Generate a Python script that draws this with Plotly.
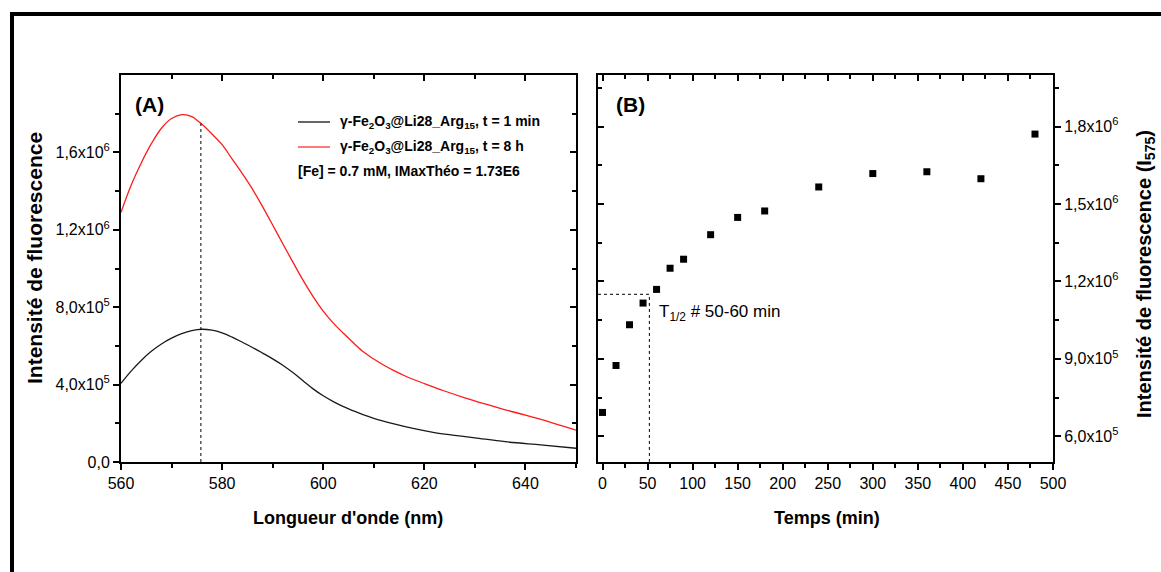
import plotly.graph_objects as go

W, H = 1161, 572

# ---------------- data ----------------
# Panel A: fluorescence spectra
wl_8h = [560, 562, 564, 566, 568, 570, 572, 574, 576, 578, 580, 582, 584, 586, 588, 590, 592,
         594, 596, 598, 600, 602, 604, 606, 608, 610, 612, 614, 616, 618, 620, 624, 628, 632,
         636, 640, 645, 650]
int_8h = [1.29e6, 1.43e6, 1.545e6, 1.645e6, 1.725e6, 1.775e6, 1.795e6, 1.785e6, 1.745e6,
          1.695e6, 1.64e6, 1.565e6, 1.49e6, 1.41e6, 1.32e6, 1.225e6, 1.128e6, 1.033e6, 0.94e6,
          0.855e6, 0.78e6, 0.718e6, 0.665e6, 0.615e6, 0.568e6, 0.532e6, 0.5e6, 0.472e6,
          0.447e6, 0.425e6, 0.405e6, 0.367e6, 0.332e6, 0.3e6, 0.27e6, 0.242e6, 0.205e6, 0.165e6]
wl_1min = [560, 562, 564, 566, 568, 570, 572, 574, 576, 578, 580, 582, 584, 586, 588, 590, 592,
           594, 596, 598, 600, 602, 604, 606, 608, 610, 614, 618, 622, 626, 630, 636, 643, 650]
int_1min = [0.407e6, 0.47e6, 0.525e6, 0.572e6, 0.61e6, 0.64e6, 0.663e6, 0.679e6, 0.686e6,
            0.681e6, 0.667e6, 0.645e6, 0.619e6, 0.592e6, 0.563e6, 0.533e6, 0.5e6, 0.462e6,
            0.42e6, 0.378e6, 0.342e6, 0.312e6, 0.286e6, 0.264e6, 0.244e6, 0.226e6, 0.197e6,
            0.172e6, 0.152e6, 0.138e6, 0.125e6, 0.105e6, 0.088e6, 0.071e6]
peak_wl = 575.8
peak_top = 1.75e6

# Panel B: kinetics of I575
t_min = [0, 15, 30, 45, 60, 75, 90, 120, 150, 180, 240, 300, 360, 420, 480]
i575 = [6.92e5, 8.74e5, 1.032e6, 1.116e6, 1.169e6, 1.251e6, 1.286e6, 1.381e6, 1.448e6,
        1.473e6, 1.566e6, 1.618e6, 1.625e6, 1.598e6, 1.771e6]
t_half = 52
i_half = 1.15e6

# tick labels
yA_vals = [0, 4e5, 8e5, 1.2e6, 1.6e6]
yA_text = ["0,0", "4,0x10<sup>5</sup>", "8,0x10<sup>5</sup>", "1,2x10<sup>6</sup>", "1,6x10<sup>6</sup>"]
yB_vals = [6e5, 9e5, 1.2e6, 1.5e6, 1.8e6]
yB_text = ["6,0x10<sup>5</sup>", "9,0x10<sup>5</sup>", "1,2x10<sup>6</sup>", "1,5x10<sup>6</sup>", "1,8x10<sup>6</sup>"]

label_1min = "γ-Fe<sub>2</sub>O<sub>3</sub>@Li28_Arg<sub>15</sub>, t = 1 min"
label_8h = "γ-Fe<sub>2</sub>O<sub>3</sub>@Li28_Arg<sub>15</sub>, t = 8 h"
label_info = "[Fe] = 0.7 mM, IMaxThéo = 1.73E6"

# ---------------- layout helpers ----------------
def px(x):
    return x / W

def py(y):
    return 1 - y / H

FAM = "Liberation Sans, Arial"
TICKFONT = dict(family=FAM, size=16, color="black")

domA = [px(121), px(576)]
domB = [px(598), px(1053)]
domY = [py(462), py(75)]

fig = go.Figure()

fig.add_trace(go.Scatter(x=wl_1min, y=int_1min, mode="lines", line=dict(color="#1a1a1a", width=1.3, shape="spline"),
                         name="t = 1 min", xaxis="x", yaxis="y", showlegend=False))
fig.add_trace(go.Scatter(x=wl_8h, y=int_8h, mode="lines", line=dict(color="#ff1a1a", width=1.3, shape="spline"),
                         name="t = 8 h", xaxis="x", yaxis="y", showlegend=False))
# dotted marker of the peak
fig.add_trace(go.Scatter(x=[peak_wl, peak_wl], y=[0, peak_top], mode="lines",
                         line=dict(color="black", width=1, dash="dot"), xaxis="x", yaxis="y",
                         showlegend=False, hoverinfo="skip"))
# kinetics
fig.add_trace(go.Scatter(x=t_min, y=i575, mode="markers", marker=dict(symbol="square", size=7, color="black"),
                         xaxis="x2", yaxis="y2", showlegend=False))
fig.add_trace(go.Scatter(x=[-5, t_half, t_half], y=[i_half, i_half, 5e5], mode="lines",
                         line=dict(color="black", width=1, dash="dot"), xaxis="x2", yaxis="y2",
                         showlegend=False, hoverinfo="skip"))
# empty traces to create mirrored (inside-tick) axes
fig.add_trace(go.Scatter(x=[], y=[], xaxis="x3", yaxis="y3", showlegend=False))
fig.add_trace(go.Scatter(x=[], y=[], xaxis="x4", yaxis="y4", showlegend=False))

axis_common = dict(showline=True, linecolor="black", linewidth=2, showgrid=False, zeroline=False,
                   ticklen=6, tickwidth=2, tickcolor="black", automargin=False, tickfont=TICKFONT)

def minor(vals, where):
    return dict(tickvals=vals, ticks=where, ticklen=4, tickwidth=2, tickcolor="black")

fig.update_layout(
    width=W, height=H, template="none",
    margin=dict(l=0, r=0, t=0, b=0),
    paper_bgcolor="white", plot_bgcolor="rgba(0,0,0,0)",
    xaxis=dict(domain=domA, range=[560, 650], anchor="y", tickvals=[560, 580, 600, 620, 640],
               ticks="outside", minor=minor([570, 590, 610, 630, 650], "outside"), **axis_common),
    yaxis=dict(domain=domY, range=[0, 2e6], anchor="x", tickvals=yA_vals, ticktext=yA_text,
               ticks="outside", minor=minor([2e5, 6e5, 1e6, 1.4e6, 1.8e6], "outside"), **axis_common),
    xaxis3=dict(domain=domA, range=[560, 650], anchor="y3", overlaying="x", side="top",
                tickvals=[580, 600, 620, 640], ticks="inside", showticklabels=False,
                minor=minor([570, 590, 610, 630], "inside"), **axis_common),
    yaxis3=dict(domain=domY, range=[0, 2e6], anchor="x3", overlaying="y", side="right",
                tickvals=yA_vals[1:], ticks="inside", showticklabels=False,
                minor=minor([2e5, 6e5, 1e6, 1.4e6, 1.8e6], "inside"), **axis_common),
    xaxis2=dict(domain=domB, range=[-5, 500], anchor="y2", tickvals=list(range(0, 501, 50)),
                ticks="outside", minor=minor(list(range(25, 500, 50)), "outside"), **axis_common),
    yaxis2=dict(domain=domY, range=[5e5, 2e6], anchor="x2", side="right", tickvals=yB_vals, ticktext=yB_text,
                ticks="outside", minor=minor([7.5e5, 1.05e6, 1.35e6, 1.65e6, 1.95e6], "outside"), **axis_common),
    xaxis4=dict(domain=domB, range=[-5, 500], anchor="y4", overlaying="x2", side="top",
                tickvals=list(range(0, 501, 50)), ticks="inside", showticklabels=False,
                minor=minor(list(range(25, 500, 50)), "inside"), **axis_common),
    yaxis4=dict(domain=domY, range=[5e5, 2e6], anchor="x4", overlaying="y2", side="left",
                tickvals=yB_vals, ticks="inside", showticklabels=False,
                minor=minor([7.5e5, 1.05e6, 1.35e6, 1.65e6, 1.95e6], "inside"), **axis_common),
)

shapes = [
    # outer frame
    dict(type="rect", xref="paper", yref="paper", x0=px(12), x1=px(1180), y0=py(600), y1=py(14),
         line=dict(color="black", width=4)),
    # legend line samples
    dict(type="line", xref="paper", yref="paper", x0=px(298), x1=px(330), y0=py(122), y1=py(122),
         line=dict(color="#333333", width=1.5)),
    dict(type="line", xref="paper", yref="paper", x0=px(298), x1=px(330), y0=py(147), y1=py(147),
         line=dict(color="#ff4d4d", width=1.5)),
]
fig.update_layout(shapes=shapes)

def ann(x, y, text, size=14, bold=False, xanchor="center", angle=0):
    t = f"<b>{text}</b>" if bold else text
    return dict(x=px(x), y=py(y), xref="paper", yref="paper", text=t, showarrow=False,
                xanchor=xanchor, yanchor="middle", textangle=angle,
                font=dict(family=FAM, size=size, color="black"))

annotations = [
    ann(34, 258, "Intensité de fluorescence", size=21, bold=True, angle=-90),
    ann(1146, 274, "Intensité de fluorescence (I<sub>575</sub>)", size=20, bold=True, angle=-90),
    ann(348, 518, "Longueur d'onde (nm)", size=18, bold=True),
    ann(827, 518, "Temps (min)", size=18, bold=True),
    ann(149, 104, "(A)", size=21, bold=True),
    ann(630, 104, "(B)", size=21, bold=True),
    ann(338, 122, label_1min, size=14, bold=True, xanchor="left"),
    ann(338, 147, label_8h, size=14, bold=True, xanchor="left"),
    ann(296, 171, label_info, size=14, bold=True, xanchor="left"),
    ann(657, 313, "T<sub>1/2</sub> # 50-60 min", size=17, xanchor="left"),
]
fig.update_layout(annotations=annotations)

fig.write_html("out.html", config={"displayModeBar": False},
               post_script="document.body.style.margin='0px';")
